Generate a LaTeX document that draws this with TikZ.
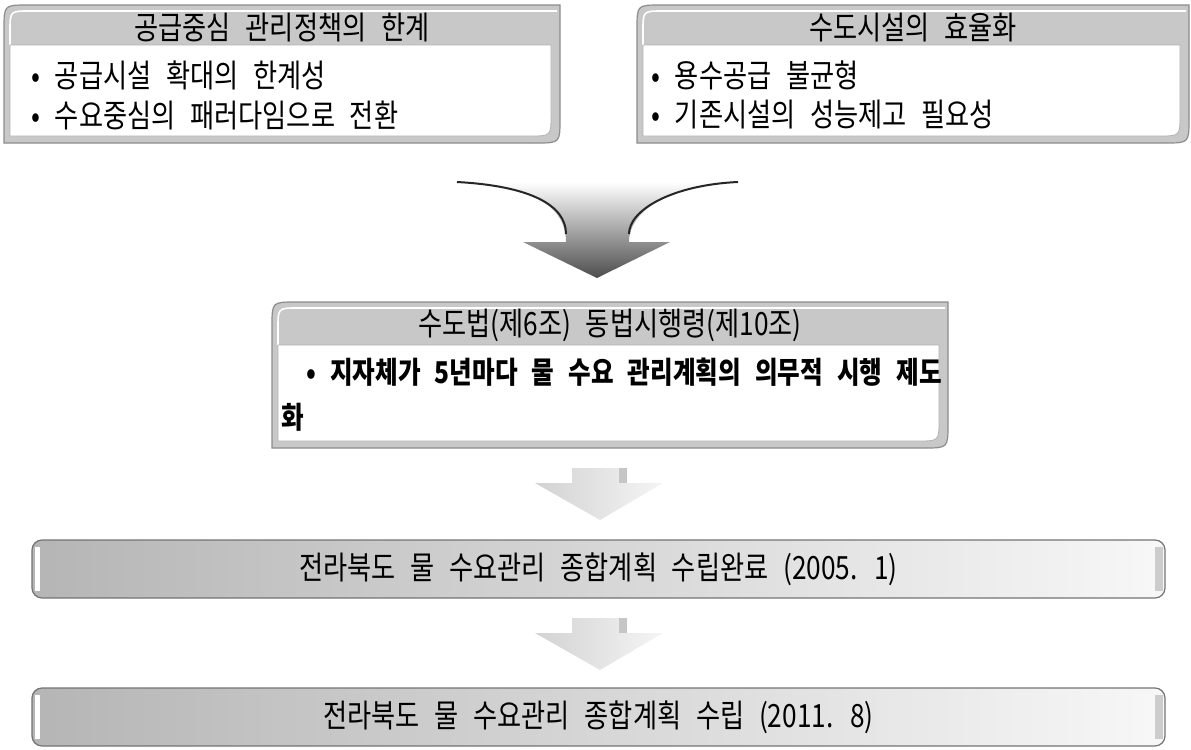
\documentclass[tikz,border=0pt]{standalone}
\usepackage{fontspec}
\setmainfont[FakeStretch=0.82, WordSpace=2.5]{Noto Sans CJK KR}
\usetikzlibrary{shapes.geometric, calc}

\definecolor{rim}{HTML}{C8C8C8}
\definecolor{edge}{HTML}{8C8C8C}
\tikzstyle{heading} = [text=black, inner sep=0pt, font=\fontsize{16pt}{18pt}\selectfont]
\tikzstyle{bullet} = [anchor=west, text=black, inner sep=0pt, font=\fontsize{16pt}{18pt}\selectfont]
\tikzstyle{lawtext} = [anchor=west, text=black, inner sep=0pt, font=\fontsize{15pt}{17pt}\selectfont\bfseries]
\tikzstyle{bar} = [rounded corners=5pt, draw=gray!90!black, line width=0.6pt, left color=gray!58, right color=white!97!black, minimum width=566.5pt, minimum height=29pt, inner sep=0pt, text=black, font=\fontsize{16pt}{18pt}\selectfont]
\tikzstyle{blockarrow} = [left color=gray!35, right color=gray!8]

\begin{document}
\begin{tikzpicture}[x=0.5pt, y=-0.5pt]
\useasboundingbox (0,0) rectangle (1191,750);

% framed boxes
\foreach \xa/\ya/\xb/\yb/\yh in {4/5/560/143/45, 637/5/1189/143/45, 272/302/948/448/345} {
  \filldraw[fill=rim, draw=edge, line width=0.6pt] (\xa,\yb) -- (\xa,\ya+24) .. controls (\xa,\ya) .. (\xa+24,\ya) -- (\xb,\ya) -- (\xb,\yb-24) .. controls (\xb,\yb) .. (\xb-24,\yb) -- cycle;
  \draw[white, line width=0.8pt] (\xa+6,\yh) -- (\xa+6,\ya+26) .. controls (\xa+6,\ya+6) .. (\xa+26,\ya+6) -- (\xb-3,\ya+6);
  \filldraw[fill=white, draw=gray!60, line width=0.4pt] (\xa+6,\yh) -- (\xb-9,\yh) -- (\xb-9,\yb-28) .. controls (\xb-9,\yb-7) .. (\xb-30,\yb-7) -- (\xa+6,\yb-7) -- cycle;
}

\node[heading] (limit) at (282,28) {공급중심 관리정책의 한계};
\node[bullet] (limit1) at (31,75) {• 공급시설 확대의 한계성};
\node[bullet] (limit2) at (31,115) {• 수요중심의 패러다임으로 전환};

\node[heading] (effic) at (913,28) {수도시설의 효율화};
\node[bullet] (effic1) at (651,75) {• 용수공급 불균형};
\node[bullet] (effic2) at (651,115) {• 기존시설의 성능제고 필요성};

\node[heading] (law) at (610,325) {수도법(제6조) 동법시행령(제10조)};
\node[lawtext] (law1) at (306,372) {• 지자체가 5년마다 물 수요 관리계획의 의무적 시행 제도};
\node[lawtext] (law2) at (281,417) {화};

% merging arrow
\shade[top color=white, middle color=gray!55, bottom color=black!70]
  (457,182) .. controls (530,186) and (566,205) .. (566,242) -- (523,242) -- (597,278) -- (670,242) -- (629,242) .. controls (629,210) and (672,185) .. (738,182) -- cycle;
\draw[black!85, line width=1pt] (457,182) .. controls (530,186) and (566,205) .. (566,234);
\draw[black!85, line width=1pt] (738,182) .. controls (672,185) and (629,210) .. (629,234);

% down arrows
\foreach \dy in {0,150} {
  \shade[blockarrow] (572,468+\dy) -- (627,468+\dy) -- (627,483+\dy) -- (663,483+\dy) -- (600,520+\dy) -- (535,483+\dy) -- (572,483+\dy) -- cycle;
  \fill[gray!45] (619,468+\dy) rectangle (627,483+\dy);
}

\node[bar] (plan05) at (598.5,569) {전라북도 물 수요관리 종합계획 수립완료 (2005. 1)};
\node[bar] (plan11) at (598.5,717) {전라북도 물 수요관리 종합계획 수립 (2011. 8)};
\foreach \p in {plan05, plan11} {
  \draw[white, line width=2.5pt] ([xshift=3pt,yshift=-4pt]\p.north west) -- ([xshift=3pt,yshift=4pt]\p.south west);
  \draw[gray!40, line width=4pt] ([xshift=-3.5pt,yshift=-4pt]\p.north east) -- ([xshift=-3.5pt,yshift=4pt]\p.south east);
}

\end{tikzpicture}
\end{document}
